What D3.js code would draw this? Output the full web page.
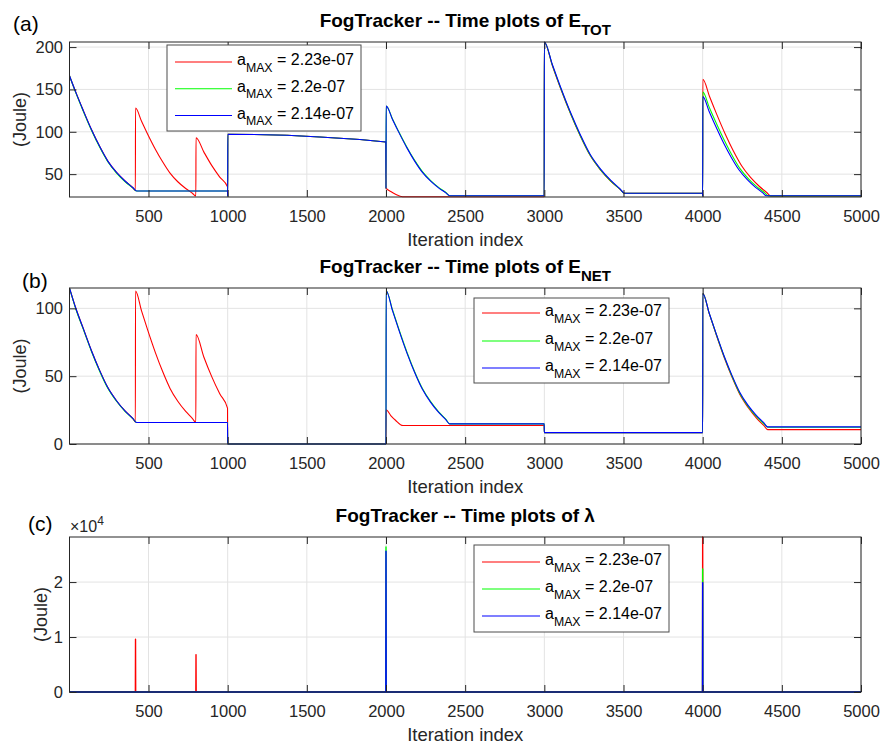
<!DOCTYPE html>
<html>
<head>
<meta charset="utf-8">
<script src="https://cdn.jsdelivr.net/npm/d3@7"></script>
<style>
  html, body { margin: 0; padding: 0; background: #fff; }
  svg { display: block; font-family: "Liberation Sans", Arial, sans-serif; }
  .tick text { fill: #262626; font-size: 16.5px; }
</style>
</head>
<body>
<div id="chart"></div>
<script>
// --- data (iteration, value) ---
const aMaxLabels = ["2.23e-07", "2.2e-07", "2.14e-07"];
const seriesColors = ["#ff0000", "#00ff00", "#0000ff"];
const xTicks = [500, 1000, 1500, 2000, 2500, 3000, 3500, 4000, 4500, 5000];

// (a) E_TOT
const eTotRed = [[1,166],[43,145.6],[86,126],[141,102.1],[192,82.5],[243,65.4],[298,52],[353,41.6],[402,33.9],[417,30.8],
  [418,128],[456,112.4],[494,97.5],[544,79.2],[590,64.3],[636,51.2],[685,41],[735,33],[779,27.2],[799,24.2],
  [800,93],[850,76],[900,60],[950,46.5],[999,35],[1000,24],[1001,97],[1999,88],
  [2000,33.5],[2030,29.5],[2060,26.3],[2105,23.3],[2999,23.3],
  [3000,206],[3051,178],[3101,152],[3167,120.6],[3228,94.7],[3288,72.5],[3354,55.1],[3420,41.6],[3478,32.1],[3506,27.3],[3999,27.3],
  [4000,24],[4001,162],[4044,141.3],[4087,121.4],[4143,97.1],[4194,77.3],[4246,59.9],[4301,46.4],[4357,35.7],[4406,28],[4430,24],[5000,24]];
const eTotGreen = [[1,166],[43,145],[86,125],[141,101.2],[192,81.6],[243,64.6],[298,51.3],[353,41],[402,33.5],[425,30],[999,30],
  [1000,24],[1001,97],[1999,88],[2000,33],
  [2001,130.5],[2041,115.2],[2081,100],[2133,81.5],[2181,66.2],[2230,52.9],[2282,42.4],[2334,34.1],[2380,28],[2402,24.5],[2999,24.5],
  [3000,206],[3051,178.4],[3101,152.5],[3167,121],[3228,95],[3288,72.8],[3354,55.4],[3420,41.8],[3478,32.2],[3506,27.4],[3999,27.4],
  [4000,24],[4001,147],[4042,128.6],[4084,110.9],[4138,89.3],[4187,71.7],[4237,56.2],[4291,44.2],[4345,34.7],[4392,27.9],[4415,24.3],[5000,24.3]];
const eTotBlue = [[1,166],[43,145.6],[86,126],[141,102.1],[192,82.5],[243,65.4],[298,52],[353,41.6],[402,33.9],[425,30],[999,30],
  [1000,24],[1001,97],[1999,88],[2000,33],
  [2001,130.5],[2041,114.6],[2081,99.3],[2133,80.7],[2181,65.4],[2230,52.1],[2282,41.7],[2334,33.5],[2380,27.6],[2402,24.5],[2999,24.5],
  [3000,206],[3051,179.2],[3101,153.5],[3167,122.1],[3228,96.3],[3288,73.8],[3354,56.3],[3420,42.6],[3478,32.6],[3506,27.4],[3999,27.4],
  [4000,24],[4001,141.5],[4041,124],[4081,107.1],[4133,86.5],[4181,69.7],[4230,54.9],[4282,43.5],[4334,34.4],[4380,27.9],[4402,24.5],[5000,24.5]];

// (b) E_NET
const eNetRed = [[1,115],[43,99.3],[86,85.8],[141,68.4],[192,54.1],[243,41.6],[298,31.9],[353,24.2],[402,18.7],[417,16.2],
  [418,112.8],[456,98.2],[494,84.3],[544,67.2],[590,53.2],[636,41],[685,31.5],[735,24],[779,18.6],[799,15.8],
  [800,80.7],[850,64],[900,49.5],[950,37],[999,26.4],[1000,0],[2000,0],
  [2001,25.2],[2030,21],[2060,17.5],[2107,13.6],[2999,13.6],[3000,8.4],[4000,8.4],
  [4001,111],[4042,95.9],[4083,81.5],[4136,63.8],[4185,49.4],[4234,36.7],[4287,26.9],[4340,19.1],[4387,13.5],[4410,10.6],[5000,10.6]];
const eNetGreen = [[1,115],[43,98.8],[86,85.2],[141,67.8],[192,53.5],[243,41.1],[298,31.5],[353,23.9],[402,18.5],[425,15.8],[999,15.8],[1000,0],[2000,0],
  [2001,113],[2041,99],[2081,84.8],[2133,67.5],[2181,53.3],[2230,40.9],[2282,31.2],[2334,23.5],[2380,17.9],[2402,14.8],[2999,14.8],[3000,8.4],[4000,8.4],
  [4001,111],[4042,96.1],[4083,81.8],[4136,64.3],[4185,50],[4234,37.4],[4287,27.7],[4340,20.1],[4387,14.8],[4410,12.4],[5000,12.4]];
const eNetBlue = [[1,115],[43,99.3],[86,85.8],[141,68.4],[192,54.1],[243,41.6],[298,31.9],[353,24.2],[402,18.7],[425,15.8],[999,15.8],[1000,0],[2000,0],
  [2001,113],[2041,98.3],[2081,84.1],[2133,66.8],[2181,52.7],[2230,40.3],[2282,30.7],[2334,23.1],[2380,17.6],[2402,14.8],[2999,14.8],[3000,8.4],[4000,8.4],
  [4001,111],[4042,96.2],[4083,82.1],[4136,64.7],[4185,50.6],[4234,38.2],[4287,28.5],[4340,21],[4387,15.5],[4410,12.6],[5000,12.6]];

// (c) lambda
const lambdaRed = [[1,0],[417,0],[418,9600],[419,0],[799,0],[800,6800],[801,0],[3999,0],[4000,28200],[4001,0],[5000,0]];
const lambdaGreen = [[1,0],[1999,0],[2000,26400],[2001,0],[3999,0],[4000,22400],[4001,0],[5000,0]];
const lambdaBlue = [[1,0],[1999,0],[2000,25600],[2001,0],[3999,0],[4000,19900],[4001,0],[5000,0]];

const W = 883, H = 744;
const L = 69.5, R = 861;
const svg = d3.select("#chart").append("svg").attr("width", W).attr("height", H);

const panels = [
  { tag: "(a)", tagX: 13, tagY: 31, top: 42, bottom: 197, yDomain: [23, 206], yTicks: [50, 100, 150, 200], fmt: d => d,
    title: "E", sub: "TOT", series: [eTotRed, eTotGreen, eTotBlue], curve: d3.curveMonotoneX,
    ylabX: 26, legend: { x: 167, y: 45, w: 194, h: 86, rows: [62, 88.7, 115.5], lx0: 175, lx1: 232, tx: 237, faded: false } },
  { tag: "(b)", tagX: 22, tagY: 288, top: 288, bottom: 444, yDomain: [0, 115], yTicks: [0, 50, 100], fmt: d => d,
    title: "E", sub: "NET", series: [eNetRed, eNetGreen, eNetBlue], curve: d3.curveMonotoneX,
    ylabX: 26, legend: { x: 474, y: 298, w: 195, h: 85, rows: [313, 341, 368], lx0: 482, lx1: 540, tx: 545, faded: true } },
  { tag: "(c)", tagX: 28, tagY: 531, top: 537, bottom: 692, yDomain: [0, 28200], yTicks: [0, 10000, 20000], fmt: d => d / 10000,
    title: "\u03bb", sub: "", series: [lambdaRed, lambdaGreen, lambdaBlue], curve: d3.curveLinear,
    ylabX: 46.5, exp: true, legend: { x: 474, y: 545, w: 195, h: 87, rows: [562, 589, 616], lx0: 482, lx1: 540, tx: 545, faded: true } }
];

panels.forEach((p, i) => {
  const x = d3.scaleLinear().domain([1, 5000]).range([L, R]);
  const y = d3.scaleLinear().domain(p.yDomain).range([p.bottom, p.top]);
  const g = svg.append("g");

  // grid
  g.append("g").selectAll("line").data(xTicks).join("line")
    .attr("x1", d => x(d)).attr("x2", d => x(d)).attr("y1", p.top).attr("y2", p.bottom)
    .attr("stroke", "#e3e3e3").attr("stroke-width", 1);
  g.append("g").selectAll("line").data(p.yTicks).join("line")
    .attr("x1", L).attr("x2", R).attr("y1", d => y(d)).attr("y2", d => y(d))
    .attr("stroke", "#e3e3e3").attr("stroke-width", 1);

  // series
  const clipId = "clip" + i;
  svg.append("clipPath").attr("id", clipId).append("rect")
    .attr("x", L).attr("y", p.top - 1).attr("width", R - L).attr("height", p.bottom - p.top + 2);
  const line = d3.line().x(d => x(d[0])).y(d => y(d[1])).curve(p.curve);
  g.append("g").attr("clip-path", `url(#${clipId})`).selectAll("path").data(p.series).join("path")
    .attr("d", line).attr("fill", "none")
    .attr("stroke", (d, k) => seriesColors[k]).attr("stroke-width", i === 2 ? 1.4 : 1.1)
    .attr("stroke-linejoin", "round");

  // axes (ticks inside, box on)
  const xb = g.append("g").attr("transform", `translate(0,${p.bottom})`)
    .call(d3.axisBottom(x).tickValues(xTicks).tickSize(-7).tickPadding(13.3).tickFormat(d3.format("d")));
  const xt = g.append("g").attr("transform", `translate(0,${p.top})`)
    .call(d3.axisTop(x).tickValues(xTicks).tickSize(-7).tickFormat(""));
  const yl = g.append("g").attr("transform", `translate(${L},0)`)
    .call(d3.axisLeft(y).tickValues(p.yTicks).tickSize(-7).tickPadding(6.5).tickFormat(p.fmt));
  const yr = g.append("g").attr("transform", `translate(${R},0)`)
    .call(d3.axisRight(y).tickValues(p.yTicks).tickSize(-7).tickFormat(""));
  [xb, xt, yl, yr].forEach(a => {
    a.select(".domain").remove();
    a.selectAll(".tick line").attr("stroke", "#262626");
    a.selectAll(".tick text").attr("font-family", null).attr("font-size", null);
  });
  g.append("rect").attr("x", L).attr("y", p.top).attr("width", R - L).attr("height", p.bottom - p.top)
    .attr("fill", "none").attr("stroke", "#262626").attr("stroke-width", 1);

  // labels
  const tt = g.append("text").attr("x", (L + R) / 2).attr("y", p.top - 15).attr("text-anchor", "middle")
    .attr("font-weight", "bold").attr("font-size", 19).attr("fill", "#000");
  tt.append("tspan").text("FogTracker -- Time plots of " + p.title);
  if (p.sub) tt.append("tspan").attr("dy", 7.5).attr("font-size", 15).text(p.sub);

  g.append("text").attr("x", (L + R) / 2).attr("y", p.bottom + 49).attr("text-anchor", "middle")
    .attr("font-size", 18.5).attr("fill", "#262626").text("Iteration index");
  g.append("text").attr("transform", `translate(${p.ylabX},${(p.top + p.bottom) / 2}) rotate(-90)`)
    .attr("text-anchor", "middle").attr("font-size", 18).attr("fill", "#262626").text("(Joule)");
  g.append("text").attr("x", p.tagX).attr("y", p.tagY).attr("font-size", 21).attr("fill", "#000").text(p.tag);

  if (p.exp) {
    const ex = g.append("text").attr("x", 70).attr("y", p.top - 5).attr("font-size", 16).attr("fill", "#262626");
    ex.append("tspan").text("\u00d710");
    ex.append("tspan").attr("dy", -7).attr("font-size", 12).text("4");
  }

  // legend
  const lg = p.legend;
  g.append("rect").attr("x", lg.x).attr("y", lg.y).attr("width", lg.w).attr("height", lg.h)
    .attr("fill", "#fff").attr("stroke", "#4d4d4d").attr("stroke-width", 1);
  aMaxLabels.forEach((lab, k) => {
    const ry = lg.rows[k];
    g.append("line").attr("x1", lg.lx0).attr("x2", lg.lx1).attr("y1", ry).attr("y2", ry)
      .attr("stroke", seriesColors[k]).attr("stroke-width", lg.faded ? 2 : 1.1)
      .attr("stroke-opacity", lg.faded ? 0.5 : 1);
    const t = g.append("text").attr("x", lg.tx).attr("y", ry + 3).attr("font-size", 16).attr("fill", "#000");
    t.append("tspan").text("a");
    t.append("tspan").attr("dy", 6.5).attr("font-size", 12.3).text("MAX");
    t.append("tspan").attr("dy", -6.5).text(" = " + lab);
  });
});
</script>
</body>
</html>
